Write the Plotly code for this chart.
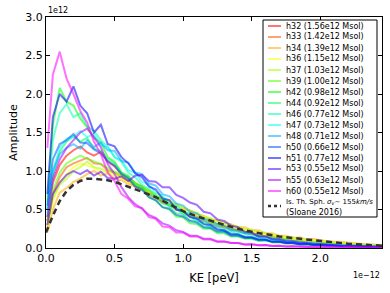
import plotly.graph_objects as go

# ---------------- data ----------------
KE = [0.01, 0.05, 0.10, 0.15, 0.20, 0.25, 0.30, 0.35, 0.40, 0.45,
      0.50, 0.55, 0.60, 0.65, 0.70, 0.75, 0.80, 0.85, 0.90, 0.95,
      1.00, 1.05, 1.10, 1.15, 1.20, 1.25, 1.30, 1.35, 1.40, 1.45,
      1.50, 1.55, 1.60, 1.65, 1.70, 1.75, 1.80, 1.85, 1.90, 1.95,
      2.00, 2.05, 2.10, 2.15, 2.20, 2.25, 2.30, 2.35, 2.40, 2.45]

halos = ["h32", "h33", "h34", "h36", "h37", "h39", "h42", "h44",
         "h46", "h47", "h48", "h50", "h51", "h53", "h55", "h60"]
masses = ["1.56", "1.42", "1.39", "1.15", "1.03", "1.00", "0.98", "0.92",
          "0.77", "0.73", "0.71", "0.66", "0.77", "0.55", "0.63", "0.55"]

h32 = [0.35, 0.85, 1.08, 1.20, 1.27, 1.32, 1.24, 1.20, 1.25, 1.12, 1.06, 0.96, 0.92, 0.84, 0.80, 0.72, 0.68, 0.60, 0.58, 0.50,
       0.47, 0.41, 0.39, 0.35, 0.32, 0.28, 0.27, 0.23, 0.22, 0.19, 0.18, 0.15, 0.15, 0.12, 0.12, 0.10, 0.09, 0.08, 0.07, 0.065,
       0.06, 0.05, 0.045, 0.04, 0.035, 0.03, 0.028, 0.025, 0.02, 0.02]
h33 = [0.28, 0.70, 0.92, 1.05, 1.10, 1.14, 1.17, 1.10, 1.09, 1.01, 0.98, 0.92, 0.87, 0.79, 0.77, 0.69, 0.65, 0.59, 0.56, 0.51,
       0.48, 0.43, 0.41, 0.36, 0.35, 0.30, 0.29, 0.25, 0.24, 0.21, 0.20, 0.17, 0.16, 0.14, 0.13, 0.11, 0.10, 0.09, 0.085, 0.075,
       0.07, 0.06, 0.055, 0.05, 0.045, 0.04, 0.035, 0.03, 0.028, 0.025]
h34 = [0.20, 0.50, 0.72, 0.78, 0.86, 0.90, 0.96, 1.00, 0.94, 0.97, 0.90, 0.88, 0.83, 0.81, 0.75, 0.73, 0.67, 0.65, 0.59, 0.57,
       0.51, 0.49, 0.44, 0.42, 0.37, 0.36, 0.32, 0.31, 0.27, 0.27, 0.23, 0.23, 0.19, 0.19, 0.16, 0.16, 0.13, 0.14, 0.11, 0.12,
       0.10, 0.09, 0.08, 0.08, 0.07, 0.06, 0.055, 0.05, 0.045, 0.04]
h36 = [0.25, 0.60, 0.85, 0.95, 1.05, 1.10, 1.07, 1.04, 0.99, 0.99, 0.94, 0.91, 0.85, 0.83, 0.76, 0.73, 0.67, 0.65, 0.59, 0.56,
       0.50, 0.48, 0.43, 0.41, 0.36, 0.35, 0.30, 0.29, 0.25, 0.25, 0.21, 0.21, 0.17, 0.17, 0.14, 0.15, 0.11, 0.12, 0.09, 0.10,
       0.08, 0.08, 0.065, 0.065, 0.05, 0.055, 0.04, 0.045, 0.03, 0.03]
h37 = [0.30, 0.65, 0.82, 0.90, 1.00, 1.05, 1.12, 1.05, 1.03, 0.99, 0.98, 0.93, 0.91, 0.84, 0.81, 0.75, 0.71, 0.65, 0.62, 0.56,
       0.53, 0.48, 0.46, 0.40, 0.39, 0.34, 0.33, 0.29, 0.28, 0.24, 0.24, 0.20, 0.20, 0.16, 0.16, 0.13, 0.14, 0.11, 0.11, 0.09,
       0.09, 0.07, 0.07, 0.055, 0.055, 0.045, 0.045, 0.035, 0.035, 0.03]
h39 = [0.35, 0.75, 0.98, 1.10, 1.15, 1.20, 1.16, 1.13, 1.09, 1.04, 0.99, 0.96, 0.89, 0.85, 0.77, 0.75, 0.66, 0.63, 0.56, 0.53,
       0.46, 0.44, 0.39, 0.37, 0.32, 0.31, 0.26, 0.26, 0.21, 0.21, 0.18, 0.18, 0.14, 0.15, 0.11, 0.12, 0.09, 0.10, 0.07, 0.075,
       0.06, 0.065, 0.045, 0.05, 0.035, 0.04, 0.025, 0.035, 0.02, 0.025]
h42 = [0.60, 1.60, 2.08, 1.90, 1.85, 1.68, 1.57, 1.43, 1.37, 1.18, 1.12, 0.98, 0.92, 0.81, 0.77, 0.66, 0.62, 0.53, 0.50, 0.41,
       0.40, 0.32, 0.31, 0.25, 0.25, 0.19, 0.19, 0.15, 0.15, 0.12, 0.12, 0.09, 0.10, 0.07, 0.075, 0.055, 0.06, 0.045, 0.05, 0.035,
       0.04, 0.03, 0.03, 0.022, 0.025, 0.018, 0.02, 0.013, 0.016, 0.01]
h44 = [0.40, 0.95, 1.25, 1.38, 1.45, 1.38, 1.43, 1.29, 1.26, 1.16, 1.10, 0.98, 0.94, 0.83, 0.79, 0.70, 0.66, 0.58, 0.54, 0.45,
       0.44, 0.36, 0.35, 0.28, 0.28, 0.22, 0.22, 0.17, 0.17, 0.14, 0.14, 0.11, 0.11, 0.08, 0.09, 0.065, 0.07, 0.055, 0.055, 0.04,
       0.045, 0.03, 0.035, 0.025, 0.028, 0.018, 0.022, 0.015, 0.017, 0.013]
h46 = [0.50, 1.40, 1.75, 1.87, 1.70, 1.75, 1.58, 1.52, 1.40, 1.32, 1.18, 1.12, 0.98, 0.92, 0.82, 0.77, 0.68, 0.64, 0.54, 0.52,
       0.43, 0.42, 0.34, 0.33, 0.27, 0.26, 0.21, 0.21, 0.16, 0.16, 0.13, 0.13, 0.10, 0.105, 0.08, 0.08, 0.065, 0.065, 0.05, 0.052,
       0.04, 0.042, 0.032, 0.033, 0.025, 0.027, 0.018, 0.021, 0.015, 0.016]
h47 = [0.45, 1.00, 1.30, 1.42, 1.45, 1.52, 1.44, 1.48, 1.34, 1.31, 1.18, 1.14, 1.01, 0.98, 0.86, 0.82, 0.72, 0.68, 0.58, 0.56,
       0.47, 0.45, 0.38, 0.36, 0.30, 0.29, 0.24, 0.23, 0.19, 0.19, 0.15, 0.15, 0.12, 0.12, 0.095, 0.095, 0.075, 0.075, 0.06, 0.062,
       0.048, 0.047, 0.038, 0.037, 0.029, 0.029, 0.023, 0.022, 0.019, 0.018]
h48 = [0.50, 1.00, 1.22, 1.30, 1.35, 1.29, 1.40, 1.31, 1.37, 1.27, 1.26, 1.13, 1.11, 0.98, 0.96, 0.84, 0.81, 0.70, 0.67, 0.58,
       0.55, 0.47, 0.45, 0.38, 0.36, 0.31, 0.29, 0.24, 0.23, 0.19, 0.19, 0.15, 0.15, 0.12, 0.12, 0.095, 0.095, 0.075, 0.075, 0.058,
       0.058, 0.048, 0.047, 0.038, 0.037, 0.029, 0.029, 0.024, 0.021, 0.02]
h50 = [0.55, 1.15, 1.35, 1.40, 1.48, 1.37, 1.36, 1.28, 1.23, 1.13, 1.07, 0.96, 0.90, 0.80, 0.76, 0.66, 0.62, 0.53, 0.51, 0.43,
       0.41, 0.35, 0.33, 0.27, 0.26, 0.21, 0.21, 0.16, 0.16, 0.13, 0.13, 0.10, 0.105, 0.08, 0.08, 0.065, 0.065, 0.05, 0.052, 0.042,
       0.042, 0.033, 0.032, 0.026, 0.026, 0.019, 0.021, 0.016, 0.016, 0.014]
h51 = [0.70, 1.70, 2.00, 1.90, 2.10, 1.85, 1.75, 1.50, 1.60, 1.35, 1.32, 1.18, 1.10, 0.97, 0.92, 0.80, 0.76, 0.64, 0.62, 0.50,
       0.48, 0.40, 0.38, 0.31, 0.30, 0.24, 0.23, 0.18, 0.18, 0.14, 0.14, 0.11, 0.11, 0.08, 0.085, 0.065, 0.065, 0.05, 0.052, 0.04,
       0.042, 0.032, 0.032, 0.023, 0.024, 0.017, 0.019, 0.013, 0.013, 0.01]
h53 = [0.30, 0.70, 0.85, 0.95, 1.00, 0.96, 1.01, 0.94, 0.99, 0.91, 0.90, 0.93, 0.87, 0.94, 0.95, 0.87, 0.86, 0.79, 0.79, 0.69,
       0.65, 0.59, 0.56, 0.47, 0.45, 0.37, 0.35, 0.29, 0.27, 0.21, 0.20, 0.15, 0.15, 0.11, 0.11, 0.085, 0.085, 0.065, 0.065, 0.048,
       0.048, 0.038, 0.037, 0.029, 0.03, 0.024, 0.021, 0.02, 0.018, 0.015]
h55 = [0.40, 0.90, 1.15, 1.30, 1.40, 1.50, 1.55, 1.44, 1.31, 1.09, 0.96, 0.79, 0.66, 0.57, 0.51, 0.43, 0.39, 0.32, 0.29, 0.23,
       0.21, 0.16, 0.16, 0.12, 0.12, 0.085, 0.085, 0.065, 0.065, 0.045, 0.048, 0.036, 0.038, 0.027, 0.028, 0.018, 0.022, 0.015, 0.017, 0.01,
       0.012, 0.008, 0.011, 0.007, 0.009, 0.005, 0.007, 0.004, 0.006, 0.005]
h60 = [1.30, 2.25, 2.55, 2.20, 2.00, 1.78, 1.63, 1.38, 1.22, 0.98, 0.87, 0.70, 0.64, 0.54, 0.52, 0.40, 0.38, 0.28, 0.27, 0.20,
       0.20, 0.15, 0.15, 0.11, 0.11, 0.08, 0.085, 0.065, 0.065, 0.045, 0.048, 0.036, 0.038, 0.027, 0.028, 0.018, 0.022, 0.015, 0.017, 0.01,
       0.012, 0.008, 0.011, 0.007, 0.009, 0.005, 0.007, 0.004, 0.006, 0.005]

series = [h32, h33, h34, h36, h37, h39, h42, h44, h46, h47, h48, h50, h51, h53, h55, h60]

KE_model = [0.00, 0.05, 0.10, 0.15, 0.20, 0.25, 0.30, 0.35, 0.40, 0.45, 0.50, 0.60, 0.70, 0.80, 0.90,
            1.00, 1.10, 1.20, 1.30, 1.40, 1.50, 1.60, 1.70, 1.80, 1.90, 2.00, 2.10, 2.20, 2.30, 2.40, 2.45]
model = [0.20, 0.42, 0.61, 0.74, 0.82, 0.87, 0.90, 0.90, 0.89, 0.88, 0.86, 0.80, 0.73, 0.66, 0.57,
         0.48, 0.41, 0.35, 0.30, 0.25, 0.21, 0.18, 0.15, 0.13, 0.11, 0.09, 0.07, 0.055, 0.045, 0.035, 0.03]

# ---------------- style ----------------
colors = ["#ff0000", "#ff5500", "#ffaa00", "#ffff00", "#aaff00", "#55ff00", "#00ff00", "#00ff55",
          "#00ffaa", "#00ffff", "#00aaff", "#0055ff", "#0000ff", "#5500ff", "#aa00ff", "#ff00ff"]
ALPHA = 0.55
FONT = "DejaVu Sans"

def rgba(h, a):
    h = h.lstrip("#")
    return "rgba(%d,%d,%d,%.2f)" % (int(h[0:2], 16), int(h[2:4], 16), int(h[4:6], 16), a)

fig = go.Figure()
for ys, c in zip(series, colors):
    fig.add_trace(go.Scatter(x=KE, y=ys, mode="lines", showlegend=False,
                             line=dict(color=c, width=2), opacity=ALPHA))
fig.add_trace(go.Scatter(x=KE_model, y=model, mode="lines", showlegend=False,
                         line=dict(color="#333333", width=2.5, dash="6px,4px")))

# plot area in pixels
L, R, T, B = 46, 382, 17, 248
W, H = 390, 293

def px(x):
    return (x - L) / (R - L)

def py(y):
    return (B - y) / (B - T)

shapes = []
annotations = []
# legend box
shapes.append(dict(type="rect", xref="paper", yref="paper", x0=px(263), x1=px(377),
                   y0=py(217), y1=py(20), line=dict(color="#000000", width=1),
                   fillcolor="white", layer="above"))
for i, (n, m, c) in enumerate(zip(halos, masses, colors)):
    yy = 26 + 11 * i
    shapes.append(dict(type="line", xref="paper", yref="paper", x0=px(268), x1=px(281),
                       y0=py(yy), y1=py(yy), line=dict(color=rgba(c, ALPHA), width=2), layer="above"))
    annotations.append(dict(xref="paper", yref="paper", x=px(284), y=py(yy), xanchor="left",
                            yanchor="middle", showarrow=False, text="%s (%se12 Msol)" % (n, m),
                            font=dict(family=FONT, size=8, color="black")))
shapes.append(dict(type="line", xref="paper", yref="paper", x0=px(268), x1=px(281),
                   y0=py(206), y1=py(206), line=dict(color="#333333", width=2.5, dash="3px,3px"),
                   layer="above"))
annotations.append(dict(xref="paper", yref="paper", x=px(284), y=py(202), xanchor="left",
                        yanchor="middle", showarrow=False,
                        text="Is. Th. Sph. <i>σ<sub>v</sub></i>∼ 155<i>km/s</i>",
                        font=dict(family=FONT, size=7, color="black")))
annotations.append(dict(xref="paper", yref="paper", x=px(284), y=py(212), xanchor="left",
                        yanchor="middle", showarrow=False, text="(Sloane 2016)",
                        font=dict(family=FONT, size=8, color="black")))
# offset texts
annotations.append(dict(xref="paper", yref="paper", x=0, y=py(11), xanchor="left",
                        yanchor="middle", showarrow=False, text="1e12",
                        font=dict(family=FONT, size=8, color="black")))
annotations.append(dict(xref="paper", yref="paper", x=1, y=py(275), xanchor="right",
                        yanchor="middle", showarrow=False, text="1e−12",
                        font=dict(family=FONT, size=8, color="black")))

axis_common = dict(showline=True, linecolor="black", linewidth=1, mirror="ticks",
                   ticks="inside", ticklen=4, tickcolor="black", showgrid=False, zeroline=False,
                   tickfont=dict(family=FONT, size=11, color="black"))

fig.update_layout(
    width=W, height=H, margin=dict(l=L, r=W - R, t=T, b=H - B),
    paper_bgcolor="white", plot_bgcolor="white",
    shapes=shapes, annotations=annotations,
    xaxis=dict(range=[0, 2.45], tickvals=[0, 0.5, 1.0, 1.5, 2.0],
               ticktext=["0.0", "0.5", "1.0", "1.5", "2.0"],
               title=dict(text="KE [peV]", font=dict(family=FONT, size=11.5, color="black"), standoff=9),
               **axis_common),
    yaxis=dict(range=[0, 3.0], tickvals=[0, 0.5, 1.0, 1.5, 2.0, 2.5, 3.0],
               ticktext=["0.0", "0.5", "1.0", "1.5", "2.0", "2.5", "3.0"],
               title=dict(text="Amplitude", font=dict(family=FONT, size=11, color="black"), standoff=5),
               **axis_common),
)

fig.write_html("out.html", config={"displayModeBar": False},
               post_script="document.body.style.margin='0';document.body.style.overflow='hidden';")
